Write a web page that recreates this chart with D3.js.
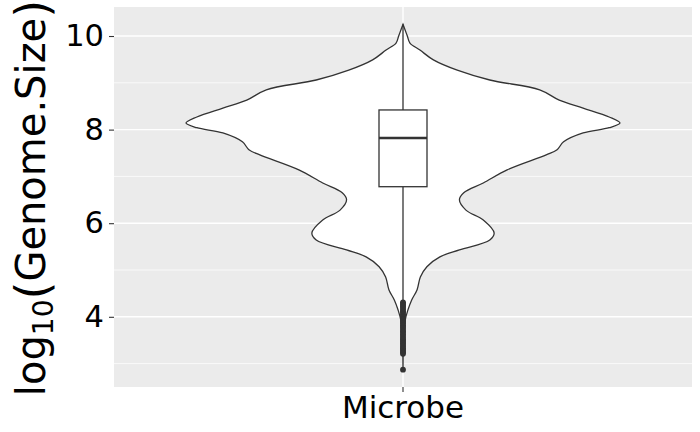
<!DOCTYPE html>
<html>
<head>
<meta charset="utf-8">
<script src="https://cdn.jsdelivr.net/npm/d3@7"></script>
<style>
  body { margin: 0; background: #fff; }
  svg { display: block; font-family: "DejaVu Sans", sans-serif; }
</style>
</head>
<body>
<svg id="chart" width="700" height="432"></svg>
<script>
"use strict";

// violin outline: log10 genome size vs relative density
const violinValues = [10.25, 10.15, 10.0, 9.85, 9.70, 9.49, 9.27, 9.06, 8.85, 8.63, 8.46, 8.27, 8.14,
  8.04, 7.93, 7.74, 7.57, 7.46, 7.14, 6.86, 6.65, 6.50, 6.28, 6.07, 5.79, 5.64, 5.43, 5.28,
  5.07, 4.85, 4.58, 4.36, 4.15, 3.93, 3.61, 3.30, 2.87];
const violinDensity = [0, 0.008, 0.02, 0.032, 0.078, 0.14, 0.25, 0.40, 0.63, 0.72, 0.83, 0.95, 1.0,
  0.95, 0.83, 0.74, 0.71, 0.66, 0.48, 0.37, 0.28, 0.26, 0.29, 0.37, 0.42, 0.40, 0.26, 0.17,
  0.11, 0.08, 0.065, 0.04, 0.023, 0.01, 0.003, 0.001, 0];

// boxplot summary
const categories = ["Microbe"];
const boxStats = { lowerWhisker: 4.33, q1: 6.78, median: 7.82, q3: 8.42, upperWhisker: 10.25 };
const outliers = [4.31, 4.28, 4.25, 4.22, 4.19, 4.15, 4.12, 4.09, 4.05, 4.02, 3.99, 3.95, 3.92,
  3.89, 3.86, 3.82, 3.79, 3.76, 3.72, 3.69, 3.66, 3.62, 3.59, 3.55, 3.52, 3.49, 3.46, 3.43,
  3.40, 3.36, 3.33, 3.30, 3.27, 3.24, 3.21, 2.87];

const yTicks = [4, 6, 8, 10];
const yMinorTicks = [3, 5, 7, 9];

const panel = { left: 114, right: 692, top: 7, bottom: 387 };
const svg = d3.select("#chart");

const x = d3.scaleBand(categories, [panel.left, panel.right]);
const y = d3.scaleLinear([2.5, 10.62], [panel.bottom, panel.top]);
const w = d3.scaleLinear([0, 1], [0, 217]);
const cx = x("Microbe") + x.bandwidth() / 2;

// panel background + grid
svg.append("rect")
    .attr("x", panel.left).attr("y", panel.top)
    .attr("width", panel.right - panel.left).attr("height", panel.bottom - panel.top)
    .attr("fill", "#EBEBEB");

const grid = svg.append("g").attr("stroke", "#fff");
grid.selectAll("line.minor")
    .data(yMinorTicks)
    .join("line")
    .attr("class", "minor")
    .attr("x1", panel.left).attr("x2", panel.right)
    .attr("y1", d => y(d)).attr("y2", d => y(d))
    .attr("stroke-width", 0.7);
grid.selectAll("line.major")
    .data(yTicks)
    .join("line")
    .attr("class", "major")
    .attr("x1", panel.left).attr("x2", panel.right)
    .attr("y1", d => y(d)).attr("y2", d => y(d))
    .attr("stroke-width", 1.4);
grid.append("line")
    .attr("x1", cx).attr("x2", cx)
    .attr("y1", panel.top).attr("y2", panel.bottom)
    .attr("stroke-width", 1.4);

// violin
const violin = violinValues.map((v, i) => [v, violinDensity[i]]);
const area = d3.area()
    .y(d => y(d[0]))
    .x0(d => cx - w(d[1]))
    .x1(d => cx + w(d[1]))
    .curve(d3.curveCatmullRom);
svg.append("path")
    .datum(violin)
    .attr("d", area)
    .attr("fill", "#fff")
    .attr("stroke", "#333")
    .attr("stroke-width", 1.3);

// boxplot
const boxHalf = 24;
const box = svg.append("g").attr("stroke", "#333").attr("stroke-width", 1.3);
box.append("line")
    .attr("x1", cx).attr("x2", cx)
    .attr("y1", y(boxStats.upperWhisker)).attr("y2", y(boxStats.q3));
box.append("line")
    .attr("x1", cx).attr("x2", cx)
    .attr("y1", y(boxStats.q1)).attr("y2", y(boxStats.lowerWhisker));
box.append("rect")
    .attr("x", cx - boxHalf).attr("width", boxHalf * 2)
    .attr("y", y(boxStats.q3)).attr("height", y(boxStats.q1) - y(boxStats.q3))
    .attr("fill", "#fff");
box.append("line")
    .attr("x1", cx - boxHalf).attr("x2", cx + boxHalf)
    .attr("y1", y(boxStats.median)).attr("y2", y(boxStats.median))
    .attr("stroke-width", 2.6);
box.selectAll("circle")
    .data(outliers)
    .join("circle")
    .attr("cx", cx)
    .attr("cy", d => y(d))
    .attr("r", 2.9)
    .attr("stroke", "none")
    .attr("fill", "#333");

// axes
const yAxis = svg.append("g")
    .attr("transform", `translate(${panel.left},0)`)
    .call(d3.axisLeft(y).tickValues(yTicks).tickSize(5).tickPadding(5).tickFormat(d3.format("d")));
yAxis.select(".domain").remove();
yAxis.selectAll(".tick line").attr("stroke", "#333").attr("stroke-width", 1.1);
yAxis.selectAll(".tick text")
    .attr("fill", "#000")
    .style("font-size", "30.5px")
    .style("font-family", "DejaVu Sans");

const xAxis = svg.append("g")
    .attr("transform", `translate(0,${panel.bottom})`)
    .call(d3.axisBottom(x).tickSize(5).tickPadding(4));
xAxis.select(".domain").remove();
xAxis.selectAll(".tick line").attr("stroke", "#333").attr("stroke-width", 1.1);
xAxis.selectAll(".tick text")
    .attr("fill", "#000")
    .style("font-size", "31px")
    .style("font-family", "DejaVu Sans");

// y title (plotmath-like: subscript and enlarged parentheses)
const title = svg.append("text")
    .attr("transform", `translate(45,${(panel.top + panel.bottom) / 2 + 1}) rotate(-90)`)
    .attr("text-anchor", "middle")
    .style("font-size", "40px")
    .attr("fill", "#000");
title.append("tspan").text("log");
title.append("tspan").text("10").attr("dy", 8).style("font-size", "28px");
title.append("tspan").text("(").attr("dy", -5).style("font-size", "46px");
title.append("tspan").text("Genome.Size").attr("dy", -3);
title.append("tspan").text(")").attr("dy", 3).style("font-size", "46px");
</script>
</body>
</html>
